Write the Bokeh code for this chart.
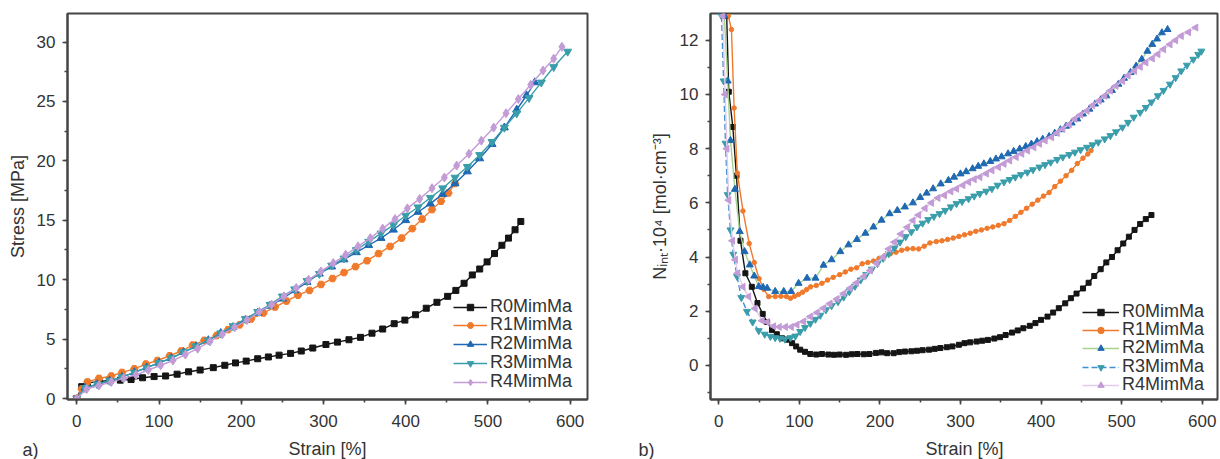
from bokeh.plotting import figure
from bokeh.models import Range1d, SingleIntervalTicker, Legend, LegendItem, Label
from bokeh.layouts import row, column
from bokeh.embed import file_html
from bokeh.resources import INLINE
import numpy as np

# ---------------- data: panel a) stress vs strain ----------------
names = ["R0MimMa", "R1MimMa", "R2MimMa", "R3MimMa", "R4MimMa"]

a_r0_x = [0, 6, 13, 27, 40, 53, 66, 80, 94, 108, 122, 136, 150, 166, 180, 193, 206, 220, 233, 246,
          260, 273, 287, 303, 317, 331, 345, 359, 372, 386, 399, 412, 425, 438, 451, 461, 471, 481, 490, 499,
          508, 517, 525, 533, 540]
a_r0_y = [0, 1.0, 1.3, 1.45, 1.5, 1.55, 1.6, 1.75, 1.85, 1.9, 2.05, 2.25, 2.4, 2.6, 2.8, 3.0, 3.15, 3.35, 3.5, 3.65,
          3.8, 4.0, 4.25, 4.55, 4.75, 4.95, 5.15, 5.5, 5.85, 6.3, 6.6, 7.05, 7.6, 8.1, 8.6, 9.1, 9.7, 10.4, 10.9, 11.5,
          12.2, 12.9, 13.5, 14.2, 14.9]

a_r1_x = [0, 6, 13, 27, 42, 55, 70, 84, 98, 113, 127, 141, 155, 170, 184, 198, 212, 227, 241, 255,
          269, 283, 297, 311, 325, 339, 353, 367, 381, 395, 408, 420, 432, 443, 452, 460]
a_r1_y = [0, 0.8, 1.4, 1.7, 1.9, 2.2, 2.5, 2.9, 3.2, 3.6, 4.0, 4.5, 4.9, 5.3, 5.8, 6.2, 6.7, 7.2, 7.7, 8.2,
          8.7, 9.1, 9.6, 10.1, 10.6, 11.1, 11.6, 12.2, 12.8, 13.5, 14.3, 15.1, 15.9, 16.6, 17.3, 18.1]

a_r2_x = [0, 10, 25, 40, 55, 70, 85, 100, 115, 130, 145, 160, 175, 190, 205, 220, 235, 250, 265, 280,
          295, 310, 325, 340, 355, 370, 385, 400, 415, 430, 445, 460, 475, 490, 505, 520, 535, 547, 557]
a_r2_y = [0, 0.9, 1.2, 1.5, 1.8, 2.2, 2.6, 3.0, 3.4, 3.9, 4.4, 4.9, 5.5, 6.0, 6.6, 7.2, 7.8, 8.4, 9.1, 9.8,
          10.5, 11.1, 11.7, 12.3, 12.9, 13.5, 14.2, 15.0, 15.7, 16.4, 17.2, 18.1, 19.1, 20.2, 21.4, 22.8, 24.3, 25.5, 26.6]

a_r3_x = [0, 10, 25, 40, 55, 70, 85, 100, 115, 130, 145, 160, 175, 190, 205, 220, 235, 250, 265, 280,
          295, 310, 325, 340, 355, 370, 385, 400, 415, 430, 445, 460, 475, 490, 505, 520, 535, 550, 565, 580, 597]
a_r3_y = [0, 0.9, 1.2, 1.5, 1.8, 2.2, 2.6, 3.0, 3.4, 3.9, 4.4, 4.9, 5.5, 6.1, 6.7, 7.3, 7.9, 8.6, 9.2, 9.9,
          10.5, 11.2, 11.8, 12.5, 13.2, 13.9, 14.6, 15.4, 16.1, 16.9, 17.7, 18.6, 19.5, 20.5, 21.6, 22.8, 24.0, 25.3,
          26.6, 27.9, 29.2]

a_r4_x = [0, 12, 27, 42, 57, 72, 87, 102, 117, 132, 147, 162, 177, 192, 207, 222, 237, 252, 267, 282,
          297, 312, 327, 342, 357, 372, 387, 402, 417, 432, 447, 462, 477, 492, 507, 522, 537, 552, 567, 580, 590]
a_r4_y = [0, 0.8, 1.1, 1.4, 1.7, 2.0, 2.4, 2.8, 3.2, 3.7, 4.2, 4.8, 5.4, 6.0, 6.6, 7.3, 7.9, 8.6, 9.3, 10.0,
          10.7, 11.4, 12.1, 12.8, 13.5, 14.3, 15.1, 16.0, 16.8, 17.7, 18.6, 19.6, 20.6, 21.7, 22.8, 24.0, 25.2, 26.4,
          27.6, 28.6, 29.6]

# ---------------- data: panel b) N_int vs strain (strain, value) ----------------
b_r0 = [(9.8, 12.9), (12.4, 10.1), (17.4, 8.8), (21.9, 7.0), (26.9, 4.6), (33, 3.4), (41, 2.9), (48, 2.3),
        (54.5, 1.9), (60, 1.6), (66, 1.31), (72, 1.15), (78.5, 1.0), (85, 0.95), (91, 0.82), (96, 0.7),
        (101, 0.58), (107, 0.5), (113.6, 0.42), (121, 0.40), (128, 0.42), (136, 0.40), (143, 0.39), (150, 0.40),
        (158, 0.39), (165, 0.41), (172, 0.42), (180, 0.41), (187, 0.42), (195, 0.46), (202, 0.48), (209, 0.45),
        (217, 0.45), (224, 0.49), (231, 0.51), (239, 0.52), (246, 0.54), (253, 0.56), (261, 0.58), (268, 0.61),
        (275, 0.64), (283, 0.67), (290, 0.70), (298, 0.76), (305, 0.82), (312, 0.85), (320, 0.88), (327, 0.91),
        (334, 0.94), (342, 0.99), (349, 1.04), (356, 1.12), (364, 1.21), (371, 1.29), (378, 1.37), (386, 1.46),
        (393, 1.56), (400, 1.68), (408, 1.80), (415, 1.95), (422, 2.11), (430, 2.29), (437, 2.48), (444, 2.65),
        (452, 2.84), (459, 3.05), (466, 3.3), (474, 3.55), (481, 3.8), (488, 4.0), (495, 4.25), (502, 4.5),
        (509, 4.75), (516, 5.0), (523, 5.22), (530, 5.4), (537, 5.55)]

b_r1 = [(11.8, 12.9), (15.7, 12.4), (19, 9.5), (23, 7.1), (30, 5.7), (37.7, 4.5), (44, 3.8), (50, 3.2),
        (56, 2.8), (62, 2.54), (70, 2.54), (77, 2.55), (84, 2.54), (89, 2.48), (94, 2.55), (99, 2.62),
        (104, 2.7), (109, 2.8), (114, 2.9), (121, 2.95), (128, 3.03), (135, 3.15), (142, 3.25), (150, 3.35),
        (157, 3.45), (164, 3.55), (171, 3.6), (178, 3.75), (185, 3.8), (192, 3.85), (199, 3.95), (206, 4.05),
        (213, 4.12), (220, 4.18), (227, 4.25), (234, 4.3), (241, 4.31), (248, 4.3), (255, 4.4), (262, 4.52),
        (270, 4.57), (277, 4.6), (284, 4.65), (291, 4.7), (298, 4.76), (305, 4.82), (312, 4.88), (319, 4.95),
        (326, 5.0), (333, 5.06), (340, 5.11), (347, 5.17), (354, 5.23), (361, 5.35), (368, 5.5), (375, 5.65),
        (382, 5.8), (389, 5.95), (396, 6.1), (403, 6.25), (410, 6.38), (417, 6.6), (424, 6.8), (431, 7.0),
        (438, 7.2), (445, 7.45), (452, 7.65), (458, 7.8), (462, 7.93)]

b_r2 = [(6.9, 12.9), (11, 10.5), (14.5, 8.3), (20, 6.5), (26, 4.94), (32, 4.2), (38.4, 3.71), (44, 3.3),
        (49.6, 2.91), (55, 2.88), (60, 2.85), (70, 2.73), (80.6, 2.73), (89.7, 2.73), (99, 3.03), (109.5, 3.22),
        (120, 3.22), (130, 3.7), (140, 3.9), (150.8, 4.2), (161, 4.45), (171.5, 4.65), (182, 4.88), (192, 5.11),
        (202, 5.36), (212, 5.6), (221.6, 5.72), (231, 5.85), (241, 6.0), (250, 6.2), (258, 6.36), (266, 6.52),
        (275.5, 6.7), (285, 6.83), (292, 6.95), (300, 7.07), (307, 7.15), (315, 7.26), (322, 7.35), (329, 7.44),
        (337, 7.53), (344, 7.62), (351, 7.7), (359, 7.81), (366, 7.9), (373.5, 7.99), (381, 8.08), (388, 8.17),
        (395, 8.26), (402, 8.35), (410, 8.45), (417, 8.57), (424, 8.7), (431, 8.83), (438, 8.95), (445, 9.1),
        (452, 9.28), (460, 9.46), (467, 9.65), (474, 9.8), (481, 9.95), (488, 10.15), (496, 10.38), (503, 10.6),
        (511, 10.81), (518, 11.05), (525, 11.3), (532, 11.6), (538, 11.85), (544, 12.05), (550, 12.28), (557, 12.4)]

b_r3 = [(3.4, 12.9), (6, 10.5), (8.3, 8.2), (11, 6.3), (14.5, 5.0), (18, 4.1), (22.7, 3.28), (28, 2.5),
        (35, 1.99), (42, 1.6), (49.6, 1.28), (57, 1.15), (64, 1.07), (70, 1.02), (76, 1.0), (82, 0.97),
        (89, 1.02), (95, 1.08), (101, 1.25), (107, 1.4), (113.6, 1.55), (120, 1.7), (126, 1.85), (133, 2.05),
        (140, 2.2), (148, 2.35), (155, 2.52), (162, 2.72), (169, 2.92), (176, 3.15), (183, 3.35), (190, 3.55),
        (197, 3.76), (204, 3.95), (211, 4.12), (218, 4.33), (225, 4.55), (232, 4.75), (239, 4.93), (246, 5.11),
        (253, 5.25), (260, 5.38), (267, 5.5), (274, 5.6), (281, 5.72), (288, 5.85), (295, 5.97), (302, 6.05),
        (310, 6.15), (317, 6.25), (324, 6.34), (332, 6.43), (339, 6.52), (346, 6.65), (354, 6.77), (361, 6.86),
        (368, 6.95), (375, 7.04), (383, 7.13), (390, 7.22), (398, 7.32), (405, 7.41), (412, 7.5), (420, 7.6),
        (427, 7.69), (435, 7.78), (442, 7.87), (449, 7.96), (457, 8.05), (464, 8.14), (471, 8.24), (479, 8.36),
        (486, 8.48), (493, 8.62), (501, 8.79), (508, 8.97), (515, 9.16), (523, 9.34), (530, 9.52), (537, 9.72),
        (545, 9.95), (552, 10.15), (560, 10.38), (567, 10.62), (574, 10.87), (581, 11.08), (589, 11.3),
        (595, 11.48), (599, 11.6)]

b_r4 = [(5, 12.9), (8, 10.0), (10, 8.0), (12.4, 6.1), (17, 4.6), (20.6, 3.9), (23.5, 3.4), (30, 2.9),
        (37, 2.54), (45, 2.1), (53.7, 1.65), (60, 1.6), (68, 1.44), (75, 1.42), (82.6, 1.42), (90, 1.42),
        (97, 1.5), (105, 1.62), (113.6, 1.8), (122, 1.95), (130, 2.11), (138, 2.28), (146.7, 2.45), (155, 2.65),
        (163, 2.85), (171, 3.05), (180, 3.28), (188, 3.5), (196, 3.77), (204, 4.0), (211, 4.3), (218, 4.55),
        (226, 4.85), (234, 5.1), (241, 5.35), (248, 5.55), (256, 5.8), (264, 6.0), (272, 6.18), (280, 6.28),
        (288, 6.42), (295, 6.52), (303, 6.65), (310, 6.77), (317, 6.87), (324, 6.95), (332, 7.08), (339, 7.2),
        (347, 7.32), (354, 7.44), (361, 7.56), (369, 7.69), (376, 7.81), (383, 7.93), (391, 8.05), (398, 8.18),
        (405, 8.3), (413, 8.42), (420, 8.58), (427, 8.73), (435, 8.9), (442, 9.1), (449, 9.25), (457, 9.4),
        (464, 9.6), (472, 9.77), (479, 9.95), (486, 10.14), (493, 10.32), (501, 10.5), (508, 10.7), (516, 10.87),
        (523, 11.02), (530, 11.18), (538, 11.33), (545, 11.49), (552, 11.67), (560, 11.85), (567, 12.0),
        (574, 12.16), (583, 12.3), (592, 12.47)]

x_ticks_interval = 100
a_y_interval = 5
b_y_interval = 2
x_title = "Strain [%]"
a_y_title = "Stress [MPa]"
b_y_title = "N\u1d62\u2099\u209c\u00b710\u2074 [mol\u00b7cm\u207b\u00b3]"
panel_tags = ["a)", "b)"]

# ---------------- styling ----------------
FONT = "Liberation Sans"
TXT = "#333333"
AXC = "#454545"

mark_col = ["#151515", "#f07a2c", "#1f68b3", "#3a9eaa", "#c39bd6"]
b_line_col = ["#151515", "#f07a2c", "#a9d28f", "#3f8fd4", "#e3cbe9"]
b_line_dash = ["solid", "solid", "solid", "6 3", "solid"]
a_markers = ["square", "hex", "triangle", "inverted_triangle", "diamond"]
a_sizes = [6, 7.5, 8, 8, 9]
b_markers = ["square", "circle", "triangle", "inverted_triangle", "triangle"]
b_sizes = [5, 4.5, 7, 7, 7]
b_angles = [0, 0, 0, 0, np.pi / 2]

TOP_H = 436
BOT_H = 23


def style(p, yint, ylab_standoff):
    p.grid.visible = False
    p.outline_line_color = AXC
    p.outline_line_width = 2
    p.outline_line_alpha = 1
    p.background_fill_color = "white"
    p.border_fill_color = "white"
    p.xaxis.ticker = SingleIntervalTicker(interval=x_ticks_interval, num_minor_ticks=2)
    p.yaxis.ticker = SingleIntervalTicker(interval=yint, num_minor_ticks=2)
    for ax in (p.xaxis[0], p.yaxis[0]):
        ax.axis_line_color = AXC
        ax.axis_line_width = 2
        ax.major_tick_line_color = AXC
        ax.minor_tick_line_color = AXC
        ax.major_tick_line_width = 1.6
        ax.minor_tick_line_width = 1.6
        ax.major_tick_out = 5
        ax.major_tick_in = 0
        ax.minor_tick_out = 3
        ax.minor_tick_in = 0
        ax.major_label_text_font = FONT
        ax.major_label_text_font_size = "17px"
        ax.major_label_text_color = TXT
        ax.axis_label_text_font = FONT
        ax.axis_label_text_font_size = "18px"
        ax.axis_label_text_font_style = "normal"
        ax.axis_label_text_color = TXT
    p.xaxis.major_label_standoff = 10
    p.yaxis.major_label_standoff = 7
    p.yaxis.axis_label_standoff = ylab_standoff


def add_legend_rows(p, items, x0, y_rows, gw):
    # one single-row legend per series so the row pitch matches the reference
    for item, yb in zip(items, y_rows):
        leg = Legend(items=[item], location=(x0, yb))
        leg.border_line_alpha = 0
        leg.background_fill_alpha = 0
        leg.label_text_font = FONT
        leg.label_text_font_size = "18px"
        leg.label_text_color = TXT
        leg.glyph_width = gw
        leg.glyph_height = 16
        leg.label_height = 16
        leg.label_standoff = 3
        leg.padding = 0
        leg.margin = 0
        p.add_layout(leg)


# ---------------- panel a ----------------
p1 = figure(width=610, height=TOP_H, x_range=Range1d(-11.3, 621.1), y_range=Range1d(-0.08, 32.4),
            output_backend="svg", toolbar_location=None,
            min_border_left=67, min_border_right=23, min_border_top=13, min_border_bottom=37)
style(p1, a_y_interval, 6)
p1.yaxis.axis_label = a_y_title

a_x = [a_r0_x, a_r1_x, a_r2_x, a_r3_x, a_r4_x]
a_y = [a_r0_y, a_r1_y, a_r2_y, a_r3_y, a_r4_y]
items_a = []
for i in range(5):
    ln = p1.line(a_x[i], a_y[i], line_color=mark_col[i], line_width=1.4)
    sc = p1.scatter(a_x[i], a_y[i], marker=a_markers[i], size=a_sizes[i],
                    fill_color=mark_col[i], line_color=mark_col[i])
    items_a.append(LegendItem(label=names[i], renderers=[ln, sc]))
add_legend_rows(p1, items_a, 386, [82, 64, 45, 26, 7], 34)

# ---------------- panel b ----------------
p2 = figure(width=610, height=TOP_H, x_range=Range1d(-10.3, 619), y_range=Range1d(-1.26, 12.99),
            output_backend="svg", toolbar_location=None,
            min_border_left=100, min_border_right=3, min_border_top=13, min_border_bottom=36)
style(p2, b_y_interval, 7)
p2.yaxis.axis_label = b_y_title

b_sets = [b_r0, b_r1, b_r2, b_r3, b_r4]
items_b = []
for i in range(5):
    xs = [v[0] for v in b_sets[i]]
    ys = [v[1] for v in b_sets[i]]
    ln = p2.line(xs, ys, line_color=b_line_col[i], line_width=1.4, line_dash=b_line_dash[i])
    sc = p2.scatter(xs, ys, marker=b_markers[i], size=b_sizes[i], angle=b_angles[i],
                    fill_color=mark_col[i], line_color=mark_col[i])
    items_b.append(LegendItem(label=names[i], renderers=[ln, sc]))
add_legend_rows(p2, items_b, 372, [77, 59, 41, 22, 4], 37)

# ---------------- bottom strip: x titles and panel tags ----------------
pb = figure(width=1220, height=BOT_H, x_range=Range1d(0, 1220), y_range=Range1d(TOP_H + BOT_H, TOP_H),
            output_backend="svg", toolbar_location=None, x_axis_type=None, y_axis_type=None,
            min_border=0, min_border_left=0, min_border_right=0, min_border_top=0, min_border_bottom=0)
pb.outline_line_color = None
pb.grid.visible = False
pb.background_fill_color = "white"
pb.border_fill_color = "white"

for xc in (327, 964):
    pb.add_layout(Label(x=xc, y=448, text=x_title, text_font=FONT, text_font_size="18px",
                        text_color=TXT, text_align="center", text_baseline="middle"))
for xl, tag in zip((22, 638), panel_tags):
    pb.add_layout(Label(x=xl, y=449, text=tag, text_font=FONT, text_font_size="18px",
                        text_color=TXT, text_align="left", text_baseline="middle"))

layout = column(row(p1, p2), pb)
open("out.html", "w").write(file_html(layout, INLINE))
